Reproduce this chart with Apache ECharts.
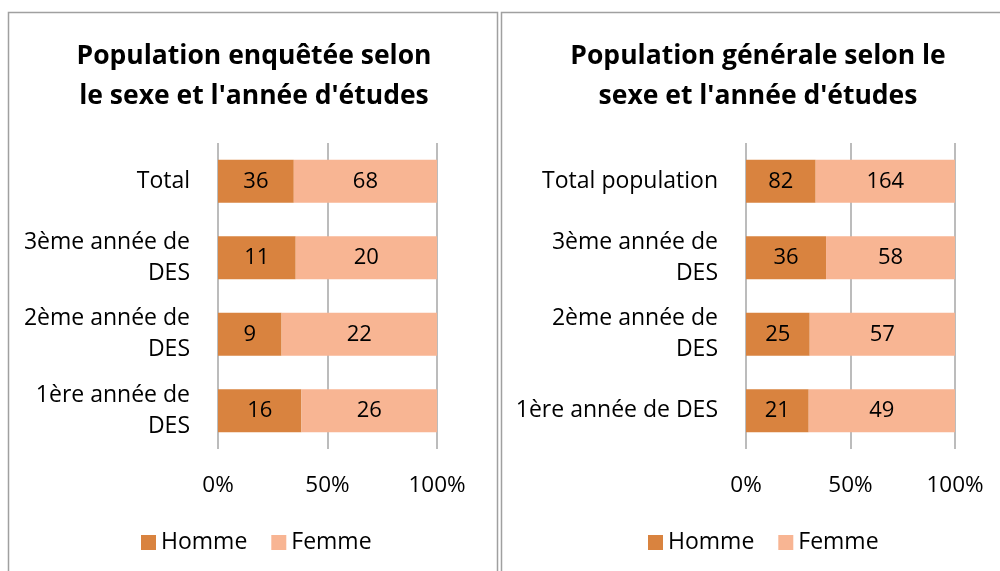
<!DOCTYPE html>
<html>
<head>
<meta charset="utf-8">
<script src="https://cdn.jsdelivr.net/npm/echarts@6/dist/echarts.min.js"></script>
<style>
  html, body { margin: 0; padding: 0; background: #fff; }
  #chart { width: 1000px; height: 571px; }
</style>
</head>
<body>
<div id="chart"></div>
<script>
// categories, bottom to top
const leftCategories = ['1ère année de\nDES', '2ème année de\nDES', '3ème année de\nDES', 'Total']
const rightCategories = ['1ère année de DES', '2ème année de\nDES', '3ème année de\nDES', 'Total population']
const leftHomme = [16, 9, 11, 36]
const leftFemme = [26, 22, 20, 68]
const rightHomme = [21, 25, 36, 82]
const rightFemme = [49, 57, 58, 164]
const seriesNames = ['Homme', 'Femme']
const percentTicks = [0, 50, 100]

const FONT = '"Open Sans", sans-serif'
const COLOR_H = '#D9833F'
const COLOR_F = '#F8B593'

// share of each category, for the 100% stacked bars
const pct = (a, b) => a.map((v, i) => v / (v + b[i]) * 100)

function barSeries(name, values, other, idx, color) {
  return {
    name: name,
    type: 'bar',
    stack: 'p' + idx,
    xAxisIndex: idx,
    yAxisIndex: idx,
    barWidth: '56%',
    data: pct(values, other),
    itemStyle: { color: color },
    label: {
      show: true,
      position: 'inside',
      color: '#000',
      fontFamily: FONT,
      fontSize: 22,
      formatter: p => values[p.dataIndex]
    }
  }
}

const chart = echarts.init(document.getElementById('chart'))
const xAxisBase = idx => ({
  type: 'value',
  gridIndex: idx,
  min: 0,
  max: 100,
  interval: 50,
  axisLine: { show: false },
  axisTick: { show: false },
  splitLine: { lineStyle: { color: '#a6a6a6', width: 1.5 } },
  axisLabel: {
    color: '#000',
    fontFamily: FONT,
    fontSize: 22.5,
    margin: 25,
    formatter: v => percentTicks.includes(v) ? v + '%' : ''
  }
})
const yAxisBase = (idx, cats) => ({
  type: 'category',
  gridIndex: idx,
  data: cats,
  axisLine: { show: false },
  axisTick: { show: false },
  axisLabel: {
    color: '#000',
    fontFamily: FONT,
    fontSize: 23,
    lineHeight: 31,
    margin: 28
  }
})
const titleStyle = { color: '#000', fontFamily: FONT, fontSize: 26.5, fontWeight: 'bold', lineHeight: 40 }
const legendBase = (idx, left) => ({
  data: seriesNames.map(n => ({ name: n })),
  left: left,
  top: 526,
  itemWidth: 15,
  itemHeight: 15,
  itemGap: 24,
  icon: 'rect',
  textStyle: { color: '#000', fontFamily: FONT, fontSize: 23 },
  selectedMode: false
})

chart.setOption({
  animation: false,
  title: [{
    text: 'Population enquêtée selon\nle sexe et l\'année d\'études',
    left: 249, top: 31, textAlign: 'center',
    textStyle: titleStyle
  }, {
    text: 'Population générale selon le\nsexe et l\'année d\'études',
    left: 753, top: 31, textAlign: 'center',
    textStyle: titleStyle
  }],
  legend: [legendBase(0, 136), legendBase(1, 643)],
  grid: [
    { left: 218, right: 563, top: 143, height: 306 },
    { left: 746, right: 45, top: 143, height: 306 }
  ],
  xAxis: [xAxisBase(0), xAxisBase(1)],
  yAxis: [yAxisBase(0, leftCategories), yAxisBase(1, rightCategories)],
  series: [
    barSeries('Homme', leftHomme, leftFemme, 0, COLOR_H),
    barSeries('Femme', leftFemme, leftHomme, 0, COLOR_F),
    barSeries('Homme', rightHomme, rightFemme, 1, COLOR_H),
    barSeries('Femme', rightFemme, rightHomme, 1, COLOR_F)
  ],
  graphic: [
    { type: 'rect', shape: { x: 8.5, y: 12.5, width: 489, height: 600 }, style: { fill: 'none', stroke: '#a0a0a0', lineWidth: 1.5 }, z: 100 },
    { type: 'rect', shape: { x: 501.5, y: 12.5, width: 520, height: 600 }, style: { fill: 'none', stroke: '#a0a0a0', lineWidth: 1.5 }, z: 100 }
  ]
})
</script>
</body>
</html>
